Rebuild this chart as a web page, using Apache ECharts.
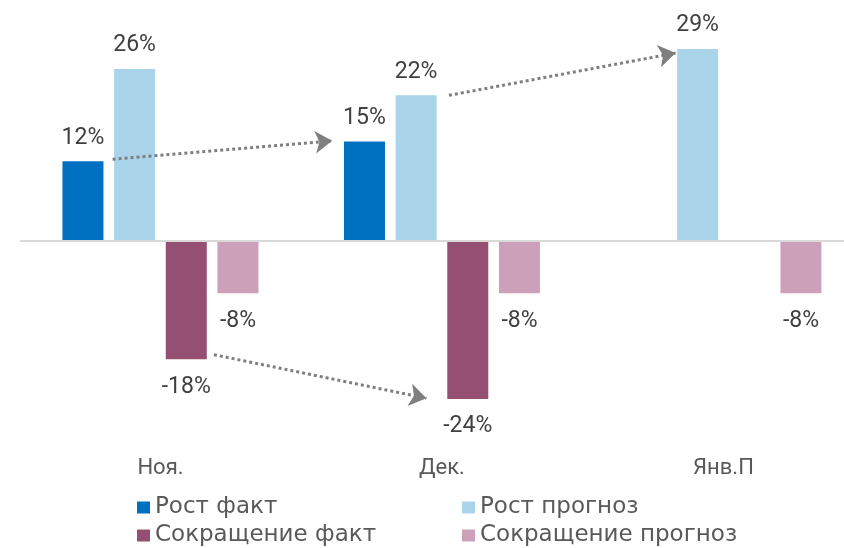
<!DOCTYPE html>
<html>
<head>
<meta charset="utf-8">
<script src="https://cdn.jsdelivr.net/npm/echarts@6/dist/echarts.min.js"></script>
<style>
  html, body { margin: 0; padding: 0; background: #fff; }
  #chart { width: 844px; height: 548px; }
</style>
</head>
<body>
<div id="chart"></div>
<script>
  // данные
  var categories = ['Ноя.', 'Дек.', 'Янв.П'];
  var growthFact = [12, 15, '-'];
  var growthForecast = [26, 22, 29];
  var cutFact = [-18, -24, '-'];
  var cutForecast = [-8, -8, -8];
  // стрелки: [[категория, значение], [категория, значение]]
  var arrows = [
    [[-0.17, 12.3], [0.61, 15.1]],
    [[1.025, 22], [1.83, 28.4]],
    [[0.19, -17.3], [0.945, -23.9]]
  ];

  var chart = echarts.init(document.getElementById('chart'));
  var font = 'Roboto, "DejaVu Sans", sans-serif';

  function barSeries (name, data, color, pos, dist) {
    return {
      name: name,
      type: 'bar',
      data: data,
      barWidth: 41,
      barGap: '26%',
      itemStyle: { color: color },
      label: {
        show: true,
        position: pos,
        distance: dist,
        formatter: '{c}%',
        color: '#404040',
        fontSize: 23,
        fontFamily: font
      }
    };
  }

  var series = [
    barSeries('Рост факт', growthFact, '#0070C0', 'top', 12),
    barSeries('Рост прогноз', growthForecast, '#A9D4EA', 'top', 12),
    barSeries('Сокращение факт', cutFact, '#954F72', 'bottom', 16),
    barSeries('Сокращение прогноз', cutForecast, '#CDA0BA', 'bottom', 16)
  ];
  series[0].markLine = {
    silent: true,
    symbol: 'none',
    label: { show: false },
    lineStyle: { color: '#D9D9D9', width: 2, type: 'solid' },
    data: [{ yAxis: 0 }]
  };
  series.push({
    type: 'lines',
    coordinateSystem: 'cartesian2d',
    xAxisIndex: 1,
    yAxisIndex: 0,
    silent: true,
    z: 5,
    symbol: ['none', 'arrow'],
    symbolSize: 17,
    lineStyle: { color: '#7F7F7F', width: 3, type: [3, 3], opacity: 1 },
    data: arrows.map(function (a) { return { coords: a }; })
  });

  function legendItem (name, left, top) {
    return {
      left: left, top: top,
      padding: 0,
      itemWidth: 13, itemHeight: 12,
      icon: 'rect',
      textStyle: { color: '#595959', fontSize: 23, fontFamily: '"DejaVu Sans", sans-serif' },
      data: [name]
    };
  }

  chart.setOption({
    animation: false,
    grid: { left: 19.7, width: 844.5, top: 42.5, height: 396, outerBoundsMode: 'none', containLabel: false },
    legend: [
      legendItem('Рост факт', 137, 496),
      legendItem('Сокращение факт', 137, 524),
      legendItem('Рост прогноз', 462, 496),
      legendItem('Сокращение прогноз', 462, 524)
    ],
    xAxis: [
      {
        type: 'category',
        data: categories,
        axisLine: { show: false },
        axisTick: { show: false },
        axisLabel: { margin: 19, color: '#595959', fontSize: 22, fontFamily: font }
      },
      {
        type: 'value',
        min: -0.5,
        max: 2.5,
        show: false
      }
    ],
    yAxis: {
      type: 'value',
      min: -30,
      max: 30,
      show: false,
      splitLine: { show: false }
    },
    series: series
  });
</script>
</body>
</html>
